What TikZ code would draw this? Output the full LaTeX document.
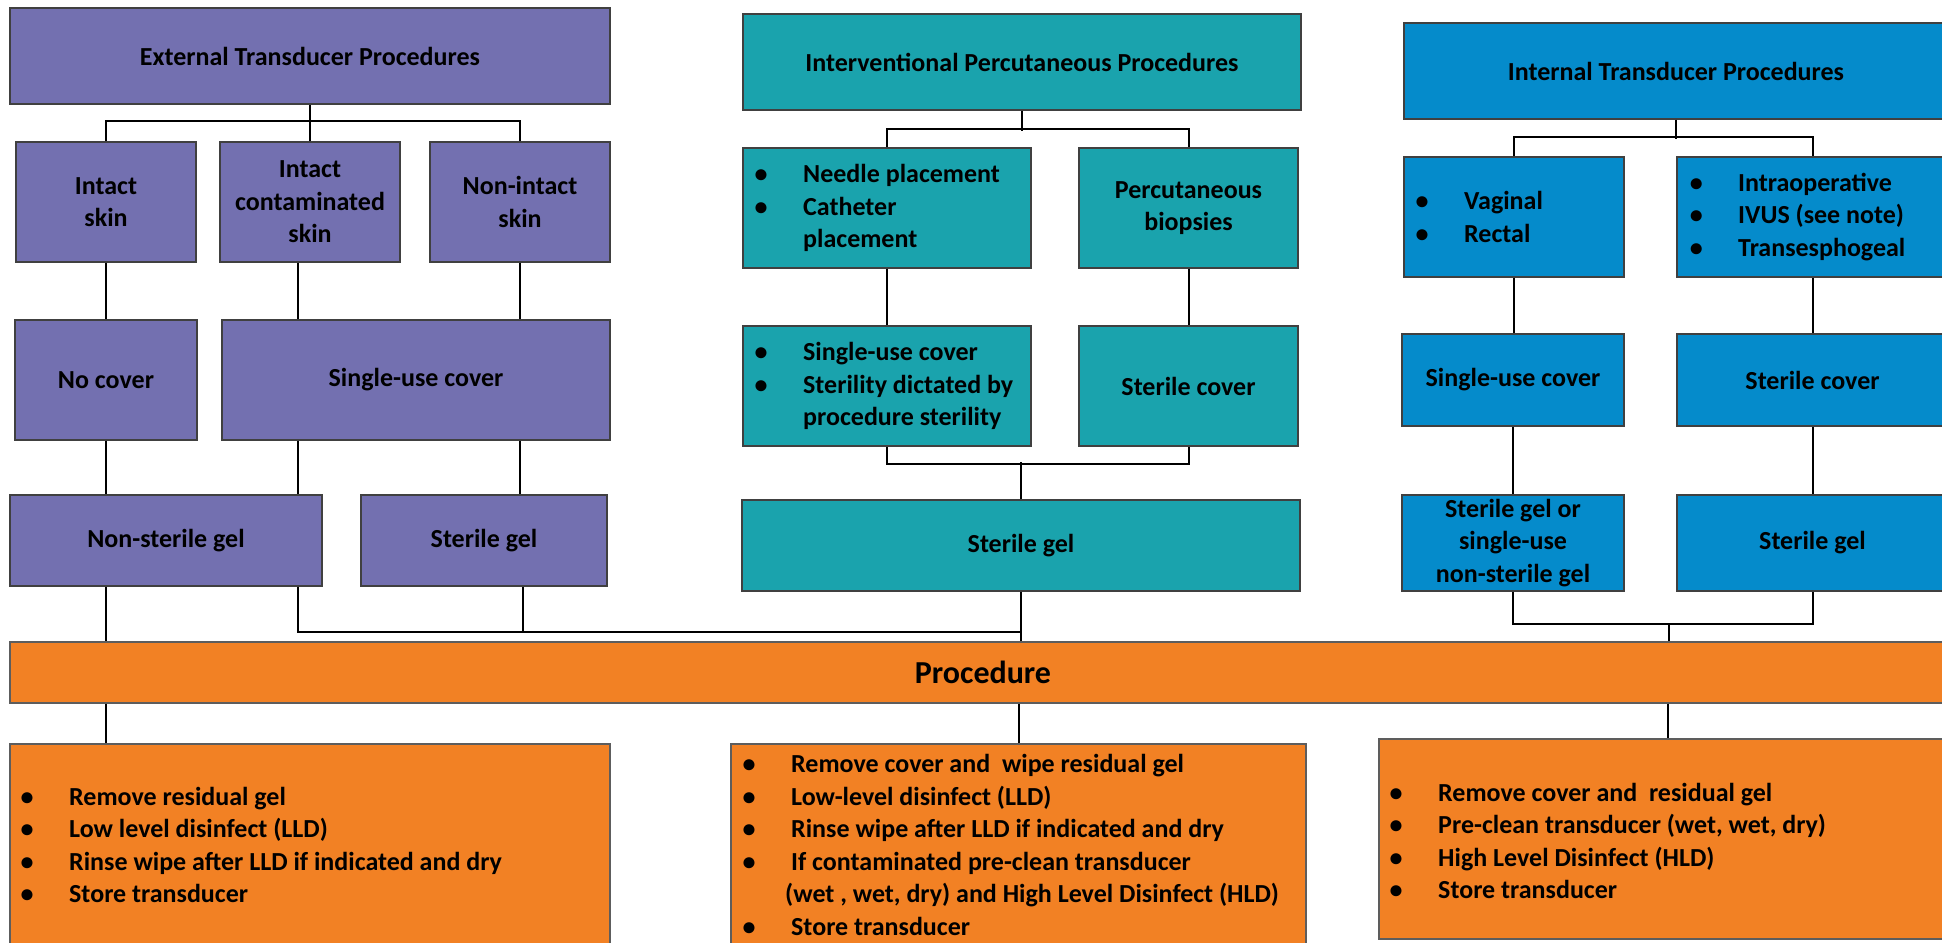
\documentclass[tikz,border=0pt]{standalone}
\usepackage{fontspec}
\setmainfont{Carlito}
\usetikzlibrary{calc}
\definecolor{cpurple}{HTML}{7370B0}
\definecolor{cteal}{HTML}{1AA3AD}
\definecolor{cblue}{HTML}{058BCB}
\definecolor{corange}{HTML}{F28124}
\definecolor{cborder}{HTML}{404040}
\newcommand\bx[7]{\node[#6, minimum width={#4-#2}, minimum height={#5-#3}] (#1) at ({(#2+#4)/2},{(#3+#5)/2}) {#7};}
\newcommand\bl[1]{\makebox[0pt][c]{\textbullet}\hspace{42pt}#1}
\tikzset{
  box/.style={draw=cborder, line width=1.3pt, inner sep=0pt, align=center,
    font=\fontsize{26}{32.5}\selectfont\bfseries},
  pbox/.style={box, fill=cpurple},
  tbox/.style={box, fill=cteal},
  bbox/.style={box, fill=cblue},
  obox/.style={box, fill=corange, draw=cborder!85},
  list/.style={inner sep=0pt, anchor=west, align=left,
    font=\fontsize{26}{32.5}\selectfont\bfseries},
  conn/.style={draw=black, line width=2pt}
}
\begin{document}
\begin{tikzpicture}[x=1pt,y=-1pt]
\useasboundingbox (0,0) rectangle (1942,942);
\clip (0,0) rectangle (1942,942);
% ---- External column
\bx{ext}{10}{8}{610}{104}{pbox}{External Transducer Procedures}
\bx{intact}{16}{142}{196}{262}{pbox}{Intact\\skin}
\bx{contam}{220}{142}{400}{262}{pbox}{Intact\\contaminated\\skin}
\bx{nonint}{430}{142}{610}{262}{pbox}{Non-intact\\skin}
\bx{nocover}{15}{320}{197}{440}{pbox}{No cover}
\bx{sucA}{222}{320}{610}{440}{pbox}{Single-use cover}
\bx{nsg}{10}{495}{322}{586}{pbox}{Non-sterile gel}
\bx{sgA}{361}{495}{607}{586}{pbox}{Sterile gel}
% ---- Interventional column
\bx{ipp}{743}{14}{1301}{110}{tbox}{Interventional Percutaneous Procedures}
\bx{needle}{743}{148}{1031}{268}{tbox}{}
\node[list] (needleT) at (761,208) {\bl{Needle placement}\\\bl{Catheter}\\\hspace*{42pt}placement};
\bx{biop}{1079}{148}{1298}{268}{tbox}{Percutaneous\\biopsies}
\bx{sucB}{743}{326}{1031}{446}{tbox}{}
\node[list] (sucBT) at (761,386) {\bl{Single-use cover}\\\bl{Sterility dictated by}\\\hspace*{42pt}procedure sterility};
\bx{scB}{1079}{326}{1298}{446}{tbox}{Sterile cover}
\bx{sgB}{742}{500}{1300}{591}{tbox}{Sterile gel}
% ---- Internal column
\bx{itp}{1404}{23}{1948}{119}{bbox}{Internal Transducer Procedures}
\bx{vag}{1404}{157}{1624}{277}{bbox}{}
\node[list] (vagT) at (1422,217) {\bl{Vaginal}\\\bl{Rectal}};
\bx{intra}{1677}{157}{1948}{277}{bbox}{}
\node[list] (intraT) at (1696,217) {\bl{Intraoperative}\\\bl{IVUS (see note)}\\\bl{Transesphogeal}};
\bx{sucC}{1402}{334}{1624}{426}{bbox}{Single-use cover}
\bx{scC}{1677}{334}{1948}{426}{bbox}{Sterile cover}
\bx{sgo}{1402}{495}{1624}{591}{bbox}{Sterile gel or\\single-use\\non-sterile gel}
\bx{sgC}{1677}{495}{1948}{591}{bbox}{Sterile gel}
% ---- Procedure
\bx{proc}{10}{642}{1956}{703}{obox,font=\fontsize{32}{38}\selectfont\bfseries}{Procedure}
\bx{bl}{10}{744}{610}{946}{obox}{}
\node[list] (blT) at (27,845) {\bl{Remove residual gel}\\\bl{Low level disinfect (LLD)}\\\bl{Rinse wipe after LLD if indicated and dry}\\\bl{Store transducer}};
\bx{bm}{731}{744}{1306}{946}{obox}{}
\node[list] (bmT) at (749,845) {\bl{Remove cover and\ \ wipe residual gel}\\\bl{Low-level disinfect (LLD)}\\\bl{Rinse wipe after LLD if indicated and dry}\\\bl{If contaminated pre-clean transducer}\\\hspace*{36pt}(wet , wet, dry) and High Level Disinfect (HLD)\\\bl{Store transducer}};
\bx{br}{1379}{739}{1956}{939}{obox}{}
\node[list] (brT) at (1396,841) {\bl{Remove cover and\ \ residual gel}\\\bl{Pre-clean transducer (wet, wet, dry)}\\\bl{High Level Disinfect (HLD)}\\\bl{Store transducer}};
% ---- helper coordinates
\coordinate (x298) at (298,0);
\coordinate (x523) at (523,0);
\coordinate (x1669) at (1669,0);
\coordinate (jA) at (1021,632);
% ---- External connectors
\draw[conn] (ext.south) -- (contam.north);
\draw[conn] (intact.north) -- ++(0,-20) -| (nonint.north);
\draw[conn] (intact.south) -- (nocover.north);
\draw[conn] (contam.south -| x298) -- (sucA.north -| x298);
\draw[conn] (nonint.south) -- (nonint.south |- sucA.north);
\draw[conn] (nocover.south) -- (nocover.south |- nsg.north);
\draw[conn] (sucA.south -| x298) -- (nsg.north -| x298);
\draw[conn] (sucA.south -| nonint.south) -- (sgA.north -| nonint.south);
\draw[conn] (nsg.south -| nocover.south) -- (proc.north -| nocover.south);
\draw[conn] (nsg.south -| x298) |- (jA);
\draw[conn] (sgA.south -| x523) -- (x523 |- jA);
% ---- Interventional connectors
\draw[conn] (ipp.south) -- ++(0,20);
\draw[conn] (needle.north) -- ++(0,-18) -| (biop.north);
\draw[conn] (needle.south) -- (sucB.north);
\draw[conn] (biop.south) -- (scB.north);
\draw[conn] (sucB.south) -- ++(0,17) -| (scB.south);
\draw[conn] (sgB.north) -- ++(0,-37);
\draw[conn] (sgB.south) -- (sgB.south |- proc.north);
% ---- Internal connectors
\draw[conn] (itp.south) -- ++(0,19);
\draw[conn] (vag.north) -- ++(0,-19) -| (intra.north);
\draw[conn] (vag.south) -- (vag.south |- sucC.north);
\draw[conn] (intra.south) -- (scC.north);
\draw[conn] (sucC.south) -- (sgo.north);
\draw[conn] (scC.south) -- (sgC.north);
\draw[conn] (sgo.south) -- ++(0,32) -| (sgC.south);
\draw[conn] (x1669 |- proc.north) -- ++(0,-18);
% ---- Procedure to outcomes
\draw[conn] (proc.south -| nocover.south) -- (bl.north -| nocover.south);
\draw[conn] (proc.south -| bm.north) -- (bm.north);
\draw[conn] (proc.south -| br.north) -- (br.north);
\end{tikzpicture}
\end{document}
